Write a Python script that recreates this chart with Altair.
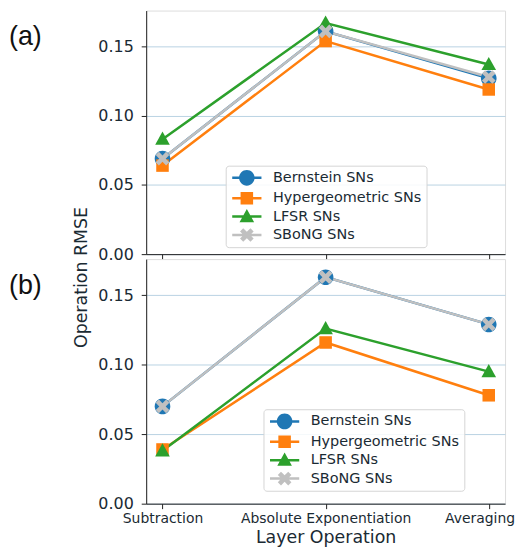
import altair as alt
import pandas as pd

operations = ["Subtraction", "Absolute Exponentiation", "Averaging"]
series = ["Bernstein SNs", "Hypergeometric SNs", "LFSR SNs", "SBoNG SNs"]
colors = ["#1f77b4", "#ff7f0e", "#2ca02c", "#c0c0c0"]

# panel (a)
a_bernstein = [0.069, 0.161, 0.127]
a_hyper = [0.064, 0.154, 0.119]
a_lfsr = [0.083, 0.167, 0.137]
a_sbong = [0.069, 0.161, 0.128]

# panel (b)
b_bernstein = [0.070, 0.163, 0.129]
b_hyper = [0.039, 0.116, 0.078]
b_lfsr = [0.038, 0.126, 0.095]
b_sbong = [0.070, 0.163, 0.129]

FONT = "DejaVu Sans"

# marker paths (unit = sqrt(size)/2 px)
CIRCLE = "M1.12,0A1.12,1.12,0,1,1,-1.12,0A1.12,1.12,0,1,1,1.12,0Z"
SQUARE = "M-0.9,-0.9H0.9V0.9H-0.9Z"
TRI = "M0,-1.1L1.05,0.8L-1.05,0.8Z"
XM = ("M0.52,-0.98L0.98,-0.52L0.46,0L0.98,0.52L0.52,0.98L0,0.46"
      "L-0.52,0.98L-0.98,0.52L-0.46,0L-0.98,-0.52L-0.52,-0.98L0,-0.46Z")
LINE = "M-2.1,-0.18H2.1V0.18H-2.1Z"
marker_paths = [CIRCLE, SQUARE, TRI, XM]
legend_paths = [LINE + p for p in marker_paths]


def make_df(vals):
    rows = []
    for s, v in zip(series, vals):
        for op, y in zip(operations, v):
            rows.append({"op": op, "series": s, "rmse": y})
    return pd.DataFrame(rows)


last_test = "datum.value === '" + operations[-1] + "'"


def panel(df, label, lx, ly, bottom, h):
    x = alt.X(
        "op:N",
        sort=operations,
        scale=alt.Scale(type="point", padding=0.1),
        axis=alt.Axis(
            title="Layer Operation" if bottom else None,
            labels=bottom,
            labelAngle=0,
            labelFontSize=14,
            labelFont=FONT,
            labelColor="#1a2a33",
            labelAlign={"condition": {"test": last_test, "value": "right"}, "value": "center"},
            labelOffset={"condition": {"test": last_test, "value": 26}, "value": 0},
            titleFontSize=17.5,
            titleFont=FONT,
            titleFontWeight="normal",
            titleColor="#1a2a33",
            titlePadding=3,
            tickSize=5,
            tickColor="#222222",
            labelPadding=3,
            domainColor="#222222",
            gridColor="#b9d3e3",
            gridWidth=1,
        ),
    )
    y = alt.Y(
        "rmse:Q",
        scale=alt.Scale(domain=[0, 0.176], nice=False, zero=True),
        axis=alt.Axis(
            values=[0, 0.05, 0.10, 0.15],
            format=".2f",
            title="Operation RMSE" if bottom else None,
            titleY=18,
            titleX=-65,
            titleBaseline="middle",
            titleFontSize=17.5,
            titleFont=FONT,
            titleFontWeight="normal",
            titleColor="#1a2a33",
            labelFontSize=16,
            labelFont=FONT,
            labelColor="#1a2a33",
            labelPadding=8,
            tickSize=5,
            tickColor="#222222",
            domainColor="#222222",
            gridColor="#b9d3e3",
            gridWidth=1,
        ),
    )
    base = alt.Chart(df)
    lines = base.mark_line(strokeWidth=2.5).encode(
        x=x, y=y,
        color=alt.Color("series:N", scale=alt.Scale(domain=series, range=colors), legend=None),
        detail="series:N",
    )
    points = base.mark_point(filled=True, opacity=1, size=196).encode(
        x=x, y=y,
        color=alt.Color("series:N", scale=alt.Scale(domain=series, range=colors), legend=None),
        shape=alt.Shape("series:N", scale=alt.Scale(domain=series, range=marker_paths), legend=None),
    )
    leg = alt.Legend(
        title=None,
        orient="none",
        legendX=lx,
        legendY=ly,
        labelFontSize=14.5,
        labelFont=FONT,
        labelColor="#1a2a33",
        symbolOpacity=1,
        symbolStrokeWidth=0,
        symbolSize=196,
        symbolOffset=9,
        labelOffset=19,
        rowPadding=3.5,
        padding=5,
        fillColor="rgba(255,255,255,0.85)",
        strokeColor="#d5d5d5",
        cornerRadius=3,
    )
    legend_layer = base.mark_point(filled=True, opacity=0, size=196).encode(
        x=x, y=y,
        color=alt.Color("series:N", scale=alt.Scale(domain=series, range=colors), legend=leg),
        shape=alt.Shape("series:N", scale=alt.Scale(domain=series, range=legend_paths), legend=leg),
    )
    lab = alt.Chart(pd.DataFrame({"t": [label["text"]]})).mark_text(
        align="left", baseline="alphabetic", fontSize=27, font="Liberation Sans", color="#111111"
    ).encode(text="t:N", x=alt.value(-138), y=alt.value(label["y"]))
    return alt.layer(lines, points, legend_layer, lab).resolve_scale(
        color="independent", shape="independent"
    ).properties(width=361, height=h)


top = panel(make_df([a_bernstein, a_hyper, a_lfsr, a_sbong]), {"text": "(a)", "y": 35}, 80, 156, False, 245)
bot = panel(make_df([b_bernstein, b_hyper, b_lfsr, b_sbong]), {"text": "(b)", "y": 35}, 118, 151, True, 246)

chart = alt.vconcat(top, bot, spacing=5, bounds="flush").properties(
    padding=0
).configure_view(stroke="#222222", strokeWidth=1.2).configure(background="white")

chart.save("out.html", embed_options={"renderer": "svg", "actions": False})
